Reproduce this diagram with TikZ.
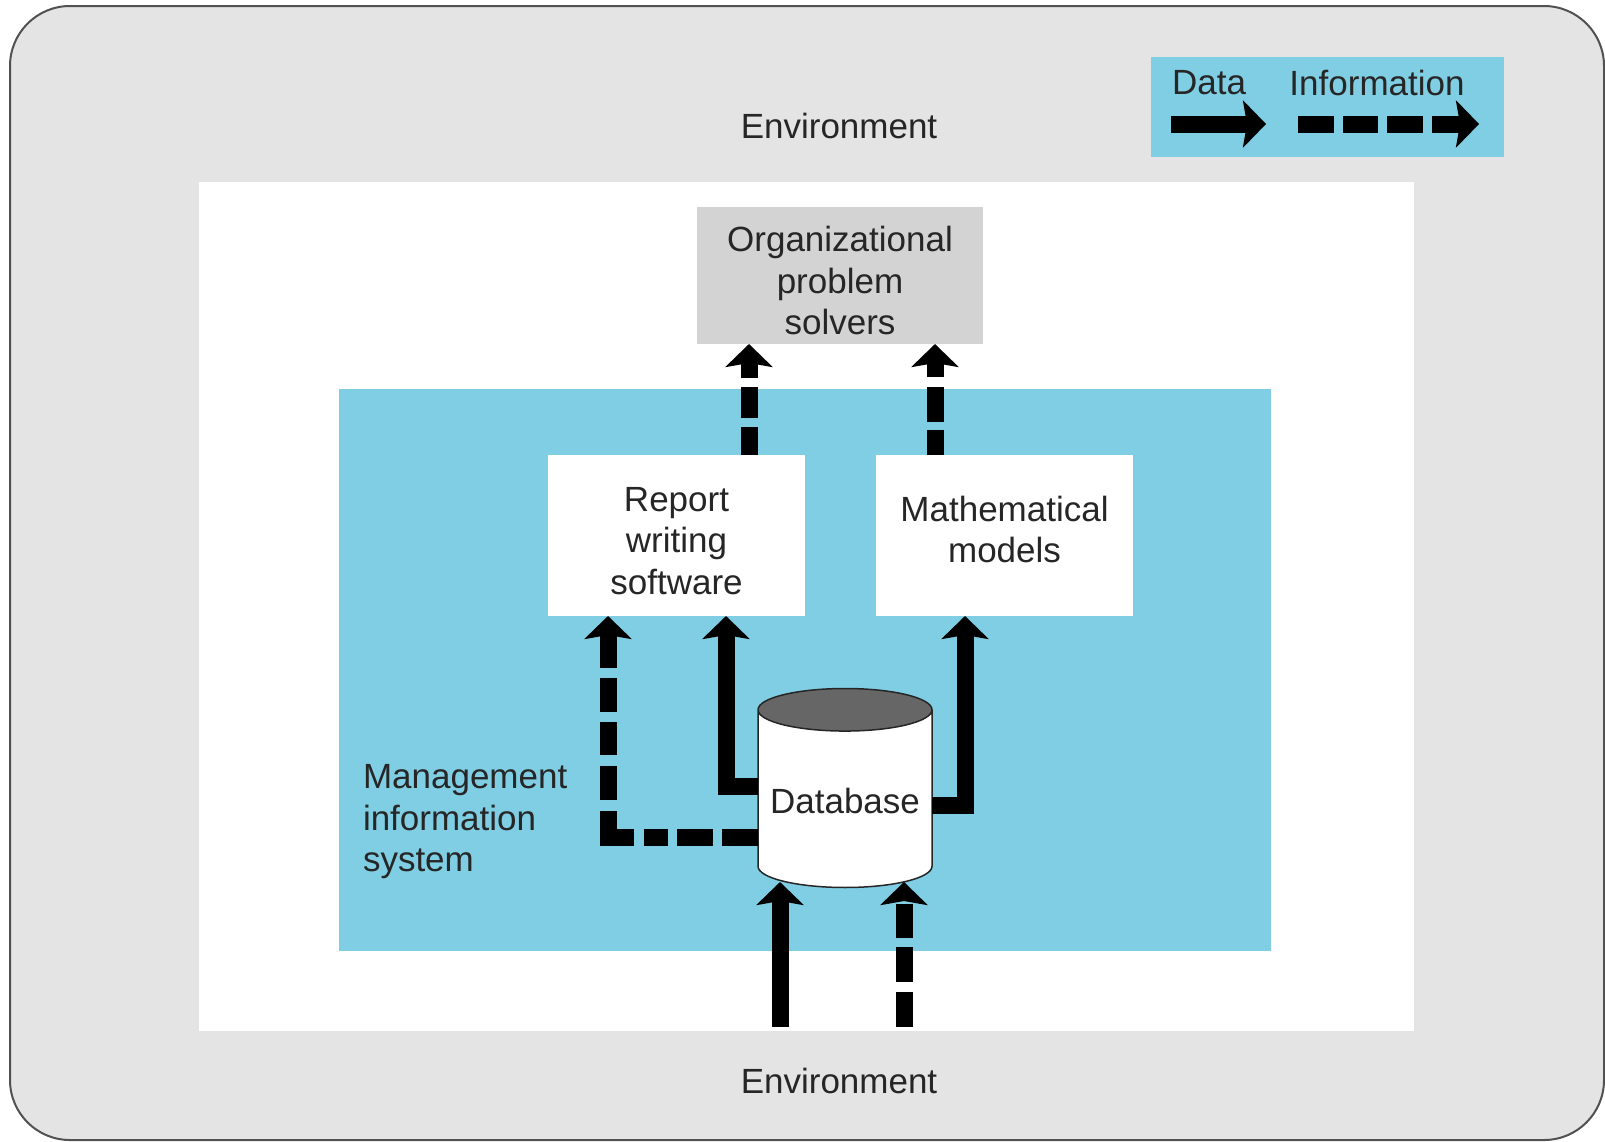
\documentclass[tikz,border=0pt]{standalone}
\usepackage{fontspec}
\setmainfont{Liberation Sans}
\usetikzlibrary{arrows.meta,positioning,shapes.geometric}
\definecolor{envgrey}{HTML}{E4E4E4}
\definecolor{misblue}{HTML}{80CEE4}
\definecolor{boxgrey}{HTML}{D3D3D3}
\definecolor{lidgrey}{HTML}{666666}
\definecolor{inkgrey}{HTML}{262626}

\tikzset{
    plate/.style={inner sep=0pt, outer sep=0pt, text=inkgrey, align=center},
    flow/.style={line width=17pt, draw=black, miter limit=10, -{Stealth[width=47pt,length=23pt,inset=4pt]}},
}

\begin{document}
\begin{tikzpicture}[x=1pt, y=-1pt, every node/.style={font=\fontsize{35}{41.5}\selectfont}]
    \useasboundingbox (0,0) rectangle (1605,1141);

    \node (env) [plate, draw=inkgrey!80, line width=2pt, fill=envgrey, rounded corners=60pt, minimum width=1594pt, minimum height=1134pt] at (807,573) {};
    \node (inner) [plate, fill=white, minimum width=1215pt, minimum height=849pt] at (806.5,606.5) {};
    \node (mis) [plate, fill=misblue, minimum width=932pt, minimum height=562pt] at (805,670) {};
    \node (legend) [plate, fill=misblue, minimum width=353pt, minimum height=100pt] at (1327.5,107) {};

    \node (envtop) [plate] at (839,126) {Environment};
    \node (envbot) [plate] at (839,1081) {Environment};
    \node (ldata) [plate] at (1209,83) {Data};
    \node (linfo) [plate] at (1377,83) {Information};

    \node (solvers) [plate, fill=boxgrey, minimum width=286pt, minimum height=137pt, text height=119pt] at (840,275.5) {Organizational\\problem\\solvers};
    \node (report) [plate, fill=white, minimum width=257pt, minimum height=161pt, text height=117.5pt] at (676.5,535.5) {Report\\writing\\software};
    \node (models) [plate, fill=white, minimum width=257pt, minimum height=161pt, text depth=12pt, right=71pt of report] {Mathematical\\models};
    \node (misname) [plate, align=left, anchor=west] at (363,822) {Management\\information\\system};

    \node (dbase) [cylinder, shape border rotate=90, aspect=0.284, draw=inkgrey, line width=1.5pt, inner sep=0pt, outer sep=0pt,
        cylinder uses custom fill, cylinder body fill=white, cylinder end fill=lidgrey,
        minimum width=174pt, minimum height=199pt, text=inkgrey, text height=29pt] at (845,799) {Database};

    % legend arrows
    \coordinate (d0) at (1171,124);
    \coordinate (d1) at (1266,124);
    \coordinate (i0) at (1298,124);
    \coordinate (i1) at (1479,124);
    \draw [flow] (d0) -- (d1);
    \draw [flow, dash pattern=on 36pt off 9pt on 35pt off 9pt on 36pt off 9pt on 100pt] (i0) -- (i1);

    % into the problem solvers
    \draw [flow, dash pattern=on 28pt off 9pt on 31pt off 9pt on 100pt] (report.north -| 749,0) -- (solvers.south -| 749,0);
    \draw [flow, dash pattern=on 25pt off 8pt on 35pt off 10pt on 100pt] (models.north -| 935,0) -- (solvers.south -| 935,0);

    % out of the database
    \draw [flow, dash pattern=on 36pt off 9pt on 36pt off 9pt on 24pt off 10pt on 52pt off 11pt on 34pt off 11pt on 33pt off 10pt on 34pt off 10pt on 100pt]
        (dbase.west |- 0,837) -| (report.south -| 608,0);
    \draw [flow] (dbase.west |- 0,786) -| (report.south -| 726,0);
    \draw [flow] (dbase.east |- 0,805) -| (models.south -| 965,0);

    % into the database
    \coordinate (e0) at (780,1027);
    \coordinate (e1) at (780,882);
    \coordinate (f0) at (904,1027);
    \coordinate (f1) at (904,882);
    \draw [flow] (e0) -- (e1);
    \draw [flow, dash pattern=on 35pt off 10pt on 35pt off 9pt on 34pt off 4pt on 100pt] (f0) -- (f1);
\end{tikzpicture}
\end{document}
